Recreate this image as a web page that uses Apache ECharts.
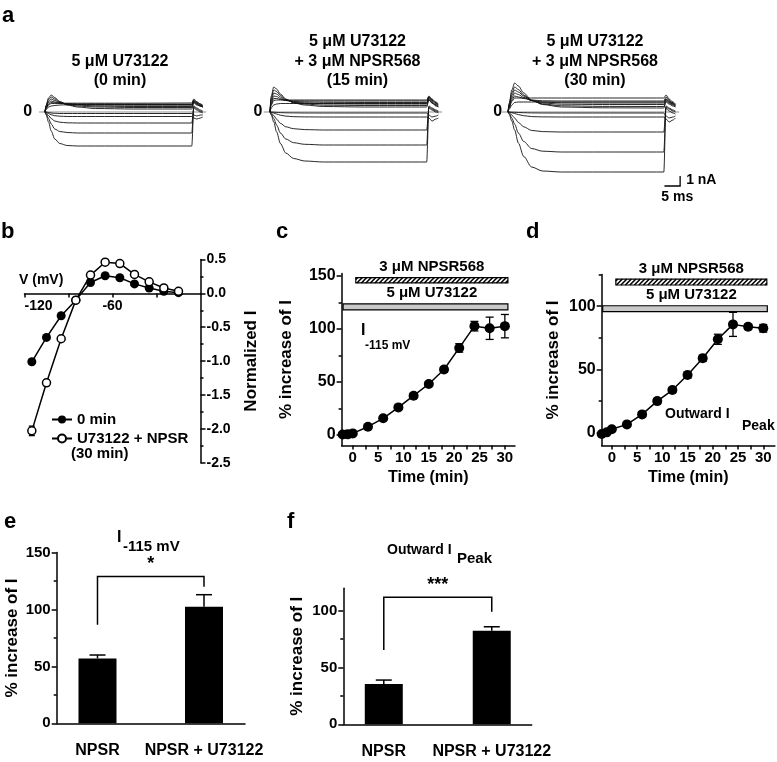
<!DOCTYPE html>
<html><head><meta charset="utf-8">
<script src="https://cdn.jsdelivr.net/npm/echarts@6/dist/echarts.min.js"></script>
<style>html,body{margin:0;padding:0;background:#fff}#c{width:777px;height:762px}</style>
</head><body><div id="c"></div><script>
// ---------- DATA ----------
// panel a: current traces (nA) sampled at these times (ms) of a 50 ms step
const traceTimeMs = [0, 0.4, 1.2, 2.1, 3.3, 5, 7.5, 11, 17, 30, 49.6, 50.3, 51.3, 52.5, 53.3];
const tracesA1 = [
 [0,-0.3,-1.0,-1.9,-2.7,-3.15,-3.35,-3.4,-3.4,-3.4,-3.4,0.5,0.3,0.1,0.0],
 [0,-0.2,-0.65,-1.2,-1.7,-1.95,-2.05,-2.1,-2.1,-2.1,-2.1,0.6,0.4,0.2,0.1],
 [0,-0.1,-0.35,-0.65,-0.9,-1.02,-1.08,-1.1,-1.1,-1.1,-1.1,0.4,0.2,0.0,-0.1],
 [0,-0.05,-0.15,-0.27,-0.37,-0.42,-0.45,-0.45,-0.45,-0.45,-0.45,-0.6,-0.7,-0.6,-0.5],
 [0,0,-0.05,-0.1,-0.13,-0.15,-0.15,-0.15,-0.15,-0.15,-0.15,-0.3,-0.4,-0.3,-0.3],
 [0,0.7,1.4,1.7,1.45,1.05,0.7,0.5,0.35,0.3,0.3,0.9,0.7,0.6,0.5],
 [0,0.6,1.25,1.5,1.3,1.0,0.75,0.6,0.5,0.45,0.45,1.0,0.8,0.6,0.5],
 [0,0.55,1.1,1.3,1.15,0.95,0.8,0.7,0.6,0.55,0.55,1.1,0.9,0.7,0.5],
 [0,0.5,0.95,1.1,1.0,0.9,0.8,0.75,0.7,0.68,0.68,1.1,0.9,0.7,0.6],
 [0,0.4,0.8,0.95,0.9,0.85,0.82,0.8,0.8,0.78,0.78,1.2,1.0,0.8,0.6],
 [0,0.35,0.7,0.85,0.87,0.88,0.88,0.88,0.88,0.88,0.9,1.3,1.0,0.8,0.7],
 [0,0.25,0.5,0.6,0.65,0.7,0.72,0.74,0.75,0.75,0.75,1.0,0.8,0.6,0.5]
];
const tracesA2 = [
 [0,-0.3,-1.0,-2.0,-3.15,-4.1,-4.65,-4.9,-5.0,-5.0,-5.0,0.5,0.3,0.1,0.0],
 [0,-0.2,-0.66,-1.3,-2.1,-2.7,-3.07,-3.23,-3.3,-3.3,-3.3,0.6,0.4,0.2,0.1],
 [0,-0.1,-0.36,-0.72,-1.13,-1.48,-1.67,-1.76,-1.8,-1.8,-1.8,0.4,0.2,0.0,-0.1],
 [0,-0.03,-0.1,-0.2,-0.32,-0.41,-0.47,-0.49,-0.5,-0.5,-0.5,-0.6,-0.9,-0.7,-0.6],
 [0,0,-0.02,-0.04,-0.06,-0.08,-0.09,-0.1,-0.1,-0.1,-0.1,-0.3,-0.5,-0.4,-0.3],
 [0,1.6,2.5,2.3,1.8,1.3,0.9,0.7,0.55,0.5,0.5,1.2,0.9,0.6,0.5],
 [0,1.4,2.2,2.05,1.65,1.25,0.95,0.8,0.68,0.65,0.65,1.3,1.0,0.7,0.5],
 [0,1.2,1.9,1.8,1.5,1.2,1.0,0.9,0.82,0.8,0.8,1.4,1.1,0.8,0.6],
 [0,1.0,1.6,1.55,1.35,1.15,1.05,1.0,0.97,0.95,0.95,1.5,1.2,0.9,0.7],
 [0,0.8,1.35,1.35,1.25,1.15,1.12,1.1,1.1,1.1,1.1,1.5,1.2,0.9,0.7],
 [0,0.7,1.15,1.2,1.2,1.2,1.2,1.2,1.2,1.2,1.2,1.6,1.3,1.0,0.8],
 [0,0.4,0.7,0.8,0.85,0.85,0.85,0.85,0.85,0.85,0.85,1.2,0.9,0.7,0.5]
];
const tracesA3 = [
 [0,-0.25,-0.9,-1.8,-3.1,-4.45,-5.5,-5.9,-6.0,-6.0,-6.0,0.5,0.3,0.1,0.0],
 [0,-0.16,-0.6,-1.2,-2.1,-2.95,-3.65,-3.92,-4.0,-4.0,-4.0,0.6,0.4,0.2,0.1],
 [0,-0.08,-0.3,-0.6,-1.04,-1.48,-1.84,-1.96,-2.0,-2.0,-2.0,0.4,0.1,-0.1,-0.2],
 [0,-0.02,-0.07,-0.15,-0.26,-0.37,-0.46,-0.49,-0.5,-0.5,-0.5,-0.7,-1.0,-0.8,-0.6],
 [0,0,-0.02,-0.03,-0.05,-0.07,-0.09,-0.1,-0.1,-0.1,-0.1,-0.4,-0.6,-0.5,-0.4],
 [0,0.9,2.2,2.9,2.6,1.9,1.2,0.75,0.5,0.42,0.4,1.0,0.8,0.6,0.5],
 [0,0.8,1.9,2.5,2.25,1.7,1.15,0.8,0.62,0.56,0.55,1.1,0.9,0.7,0.5],
 [0,0.7,1.65,2.2,2.0,1.6,1.15,0.9,0.78,0.75,0.75,1.2,1.0,0.8,0.6],
 [0,0.6,1.4,1.9,1.75,1.45,1.15,1.0,0.92,0.9,0.9,1.3,1.1,0.9,0.7],
 [0,0.5,1.2,1.6,1.5,1.35,1.2,1.12,1.1,1.1,1.1,1.5,1.2,0.9,0.7],
 [0,0.45,1.05,1.4,1.4,1.4,1.4,1.4,1.4,1.4,1.4,1.7,1.3,1.0,0.8],
 [0,0.3,0.7,0.95,1.0,1.0,1.0,1.0,1.0,1.0,1.0,1.3,1.0,0.8,0.6]
];
const zeroLineMs = [-2, 54.5];
const scaleBarMs = 5, scaleBarNA = 1;
const aTitles = [
 ['5 \u03bcM U73122', '(0 min)'],
 ['5 \u03bcM U73122', '+ 3 \u03bcM NPSR568', '(15 min)'],
 ['5 \u03bcM U73122', '+ 3 \u03bcM NPSR568', '(30 min)']
];
// panel b: I-V
const ivVoltage = [-115, -105, -95, -85, -75, -65, -55, -45, -35, -25, -15];
const iv0min = [-1.01, -0.65, -0.33, -0.10, 0.16, 0.26, 0.23, 0.14, 0.08, 0.03, 0.01];
const iv0minErr = [0.03, 0.02, 0.02, 0.01, 0.01, 0.01, 0.01, 0.01, 0.01, 0.01, 0.01];
const iv30min = [-2.03, -1.32, -0.67, -0.10, 0.27, 0.46, 0.44, 0.28, 0.17, 0.08, 0.03];
const iv30minErr = [0.07, 0.04, 0.03, 0.02, 0.02, 0.02, 0.02, 0.02, 0.01, 0.01, 0.01];
const ivNames = ['0 min', 'U73122 + NPSR', '(30 min)'];
const vTicks = [-120, -90, -60, -30];
const vLabels = [-120, -60];
// panels c, d: time course
const timeMin = [-2, -1, 0, 3, 6, 9, 12, 15, 18, 21, 24, 27, 30];
const incC = [0.4, 0.6, 1.5, 7.8, 15.7, 26, 37, 48, 61.7, 82, 102.5, 100.5, 102.5];
const incCErr = [1, 1, 1.5, 1.5, 1.5, 2, 2, 2, 2.5, 4, 4.5, 10.5, 11];
const incD = [-1, 0.3, 2.7, 6.6, 14.5, 25, 33.7, 45.6, 58.8, 73.8, 85.6, 83.7, 82.5];
const incDErr = [1, 1, 1.5, 1.5, 2, 2, 2, 2.5, 2.5, 4, 9.5, 2, 3];
const drugLabels = ['3 \u03bcM NPSR568', '5 \u03bcM U73122'];
const drugC = [[0.6, 30.6, 143.2, 148.3, 1], [-1.9, 30.6, 117.8, 123.5, 0]];
const drugD = [[0.8, 30.7, 116.7, 121.4, 1], [-1.8, 30.8, 95.6, 100.3, 0]];
const timeTicks = [0, 2.5, 5, 7.5, 10, 12.5, 15, 17.5, 20, 22.5, 25, 27.5, 30];
const timeLabels = [0, 5, 10, 15, 20, 25, 30];
// panels e, f: bars
const barCats = ['NPSR', 'NPSR + U73122'];
const barE = [57, 102.5], barEErr = [3, 10.5];
const barF = [35.5, 82.5], barFErr = [3.5, 3.5];
const bracketE = [1, 2, 129, 86.5, 120];
const bracketF = [1, 2, 112, 65.5, 99.3];
const sigLabels = ['*', '***'];

// ---------- CHART ----------
const FONT = '"Liberation Sans", Arial, Helvetica, sans-serif';
const chart = echarts.init(document.getElementById('c'));
const bold = (s) => 'bold ' + s + 'px ' + FONT;
const AX = {color: '#000', width: 1.5};

const grids = [
 {left: 36.1, top: 72, width: 174.6, height: 135},
 {left: 260.5, top: 72, width: 186.4, height: 135},
 {left: 498.6, top: 72, width: 185.3, height: 135},
 {left: 24.5, top: 259.5, width: 176, height: 203.2},
 {left: 341.6, top: 273.6, width: 173.4, height: 172},
 {left: 601.7, top: 274.5, width: 173.2, height: 170.9},
 {left: 56.7, top: 552.6, width: 188.3, height: 170.7},
 {left: 343.3, top: 588.2, width: 188.4, height: 136.1},
 {left: 24.5, top: 259.5, width: 176, height: 33.9}   // b: strip ending at V axis (I = 0)
];
const xAxes = [], yAxes = [], series = [];
const lbl = (size) => ({color: '#000', fontWeight: 'bold', fontFamily: FONT, fontSize: size});

// panel a
const aMargins = [4, -2, -3.5];
[tracesA1, tracesA2, tracesA3].forEach((tr, k) => {
  xAxes.push({gridIndex: k, type: 'value', min: -3, max: 56, show: false});
  yAxes.push({gridIndex: k, type: 'value', min: -9.5, max: 4,
    axisLine: {show: false}, axisTick: {show: false}, splitLine: {show: false},
    axisLabel: Object.assign(lbl(16), {customValues: [0], margin: aMargins[k]})});
  series.push({type: 'line', xAxisIndex: k, yAxisIndex: k, data: zeroLineMs.map(t => [t, 0]),
    showSymbol: false, silent: true, lineStyle: {color: '#b4b4b4', width: 1.6}, z: 1});
  tr.forEach(vals => {
    series.push({type: 'line', xAxisIndex: k, yAxisIndex: k, smooth: 0.3, smoothMonotone: 'x',
      showSymbol: false, silent: true, data: traceTimeMs.map((t, i) => [t, vals[i]]),
      lineStyle: {color: '#111', width: 0.9}, z: 2});
  });
});
series.push({type: 'custom', xAxisIndex: 2, yAxisIndex: 2, silent: true,
  data: [[54.8, -7.4, scaleBarMs, scaleBarNA]],
  renderItem: (p, api) => {
    const t = api.value(0), v = api.value(1), dt = api.value(2), dv = api.value(3);
    const c = api.coord([t, v]), l = api.coord([t - dt, v]), u = api.coord([t, v + dv]);
    return {type: 'group', children: [
      {type: 'polyline', shape: {points: [l, c, u]}, style: {stroke: '#000', lineWidth: 1.3, fill: null}},
      {type: 'text', style: {text: scaleBarNA + ' nA', x: c[0] + 6, y: (c[1] + u[1]) / 2 - 1, textVerticalAlign: 'middle', font: bold(14), fill: '#000'}},
      {type: 'text', style: {text: scaleBarMs + ' ms', x: (c[0] + l[0]) / 2 + 5, y: c[1] + 4, textAlign: 'center', textVerticalAlign: 'top', font: bold(14), fill: '#000'}}
    ]};
  }});

// panel b
xAxes.push({gridIndex: 3, type: 'value', min: -120, max: 0, show: false});
yAxes.push({gridIndex: 3, type: 'value', position: 'right', min: -2.5, max: 0.5, interval: 0.5,
  axisLine: {lineStyle: AX}, splitLine: {show: false},
  axisTick: {length: 5, lineStyle: AX}, minorTick: {show: true, splitNumber: 2, length: 3, lineStyle: AX},
  axisLabel: Object.assign(lbl(14), {formatter: v => v.toFixed(1), margin: 6}),
  name: 'Normalized I', nameLocation: 'middle', nameRotate: 90, nameGap: 42,
  nameTextStyle: lbl(17)});
function errRender(w) {
  return (p, api) => {
    const x = api.value(0), y = api.value(1), e = api.value(2);
    if (!e) return;
    const a = api.coord([x, y + e]), b = api.coord([x, y - e]);
    const st = {stroke: '#000', lineWidth: 1.3};
    return {type: 'group', children: [
      {type: 'line', shape: {x1: a[0], y1: a[1], x2: b[0], y2: b[1]}, style: st},
      {type: 'line', shape: {x1: a[0] - w, y1: a[1], x2: a[0] + w, y2: a[1]}, style: st},
      {type: 'line', shape: {x1: b[0] - w, y1: b[1], x2: b[0] + w, y2: b[1]}, style: st}
    ]};
  };
}
series.push({type: 'custom', xAxisIndex: 3, yAxisIndex: 3, silent: true, z: 2,
  data: ivVoltage.map((v, i) => [v, iv0min[i], iv0minErr[i]]), renderItem: errRender(3)});
series.push({type: 'custom', xAxisIndex: 3, yAxisIndex: 3, silent: true, z: 2,
  data: ivVoltage.map((v, i) => [v, iv30min[i], iv30minErr[i]]), renderItem: errRender(3)});
series.push({name: ivNames[0], type: 'line', xAxisIndex: 3, yAxisIndex: 3, z: 3,
  data: ivVoltage.map((v, i) => [v, iv0min[i]]), symbol: 'circle', symbolSize: 9,
  itemStyle: {color: '#000'}, lineStyle: {color: '#000', width: 1.5}});
series.push({name: ivNames[1], type: 'line', xAxisIndex: 3, yAxisIndex: 3, z: 4,
  data: ivVoltage.map((v, i) => [v, iv30min[i]]), symbol: 'circle', symbolSize: 8,
  itemStyle: {color: '#fff', borderColor: '#000', borderWidth: 1.5}, lineStyle: {color: '#000', width: 1.5}});

// panels c, d
function drugRender(p, api) {
  const t0 = api.value(0), t1 = api.value(1), lo = api.value(2), hi = api.value(3), kind = api.value(4);
  const a = api.coord([t0, hi]), b = api.coord([t1, lo]);
  const x0 = a[0], y0 = a[1], x1 = b[0], y1 = b[1], h = y1 - y0;
  const ch = [{type: 'rect', shape: {x: x0, y: y0, width: x1 - x0, height: h},
    style: {fill: kind ? '#fff' : '#c9c9c9', stroke: '#000', lineWidth: 1.2}}];
  if (kind) {
    for (let xb = x0 - h + 2; xb < x1; xb += 4.5) {
      let sx = xb, sy = y1, ex = xb + h, ey = y0;
      if (sx < x0) { sy = y1 - (x0 - sx); sx = x0; }
      if (ex > x1) { ey = y0 + (ex - x1); ex = x1; }
      if (ex <= sx) continue;
      ch.push({type: 'line', shape: {x1: sx, y1: sy, x2: ex, y2: ey}, style: {stroke: '#000', lineWidth: 1.6}});
    }
  }
  const d0 = p.context.first || (p.context.first = [x0, x1]);
  ch.push({type: 'text', style: {text: drugLabels[p.dataIndex], x: (d0[0] + d0[1]) / 2, y: y0 - 3,
    textAlign: 'center', textVerticalAlign: 'bottom', font: bold(15), fill: '#000'}});
  return {type: 'group', children: ch};
}
[[4, incC, incCErr, drugC, -2.2, 32, 152, [0, 50, 100, 150], [25, 75, 125], 47],
 [5, incD, incDErr, drugD, -2.0, 32.3, 125, [0, 50, 100], [25, 75, 125], 40]].forEach(cfg => {
  const [g, vals, errs, drugs, xmin, xmax, ymax, majors, minors, gap] = cfg;
  xAxes.push({gridIndex: g, type: 'value', min: xmin, max: xmax,
    axisLine: {onZero: false, lineStyle: AX}, splitLine: {show: false},
    axisTick: {customValues: timeTicks, length: 4, lineStyle: AX},
    axisLabel: Object.assign(lbl(15), {customValues: timeLabels, margin: 5}),
    name: 'Time (min)', nameLocation: 'middle', nameGap: 24, nameTextStyle: lbl(16)});
  const yi = yAxes.length;
  yAxes.push({gridIndex: g, type: 'value', position: 'left', min: -10, max: ymax,
    axisLine: {onZero: false, lineStyle: AX}, splitLine: {show: false},
    axisTick: {customValues: majors, length: 5, lineStyle: AX},
    axisLabel: Object.assign(lbl(16), {customValues: majors, margin: 6}),
    name: '% increase of I', nameLocation: 'middle', nameRotate: 90, nameGap: gap, nameTextStyle: lbl(17)});
  yAxes.push({gridIndex: g, type: 'value', position: 'left', min: -10, max: ymax,
    axisLine: {show: false, onZero: false}, splitLine: {show: false}, axisLabel: {show: false},
    axisTick: {customValues: minors, length: 3, lineStyle: AX}});
  const xi = xAxes.length - 1;
  series.push({type: 'custom', xAxisIndex: xi, yAxisIndex: yi, silent: true, data: drugs, renderItem: drugRender});
  series.push({type: 'custom', xAxisIndex: xi, yAxisIndex: yi, silent: true, z: 2,
    data: timeMin.map((t, i) => [t, vals[i], errs[i]]), renderItem: errRender(4)});
  series.push({type: 'line', xAxisIndex: xi, yAxisIndex: yi, z: 3, data: timeMin.map((t, i) => [t, vals[i]]),
    symbol: 'circle', symbolSize: 10, itemStyle: {color: '#000'}, lineStyle: {color: '#000', width: 1.5}});
});

// panels e, f
function capRender(p, api) {
  const x = api.value(0), y = api.value(1), e = api.value(2);
  const a = api.coord([x, y]), b = api.coord([x, y + e]);
  const st = {stroke: '#000', lineWidth: 1.5};
  return {type: 'group', children: [
    {type: 'line', shape: {x1: a[0], y1: a[1], x2: b[0], y2: b[1]}, style: st},
    {type: 'line', shape: {x1: b[0] - 8, y1: b[1], x2: b[0] + 8, y2: b[1]}, style: st}
  ]};
}
function bracketRender(label, size) {
  return (p, api) => {
    const x1 = api.value(0), x2 = api.value(1), yt = api.value(2), yl = api.value(3), yr = api.value(4);
    const a = api.coord([x1, yl]), b = api.coord([x1, yt]), c = api.coord([x2, yt]), d = api.coord([x2, yr]);
    return {type: 'group', children: [
      {type: 'polyline', shape: {points: [a, b, c, d]}, style: {stroke: '#000', lineWidth: 1.5, fill: null}},
      {type: 'text', style: {text: label, x: (b[0] + c[0]) / 2, y: b[1] - 3, textAlign: 'center',
        textVerticalAlign: 'bottom', font: bold(size), fill: '#000'}}
    ]};
  };
}
[[6, barE, barEErr, bracketE, sigLabels[0], 0.617, 2.385, 150, [0, 50, 100, 150], [25, 75, 125], 36],
 [7, barF, barFErr, bracketF, sigLabels[1], 0.625, 2.37, 120, [0, 50, 100], [25, 75], 37]].forEach(cfg => {
  const [g, vals, errs, br, sig, xmin, xmax, ymax, majors, minors, gap] = cfg;
  xAxes.push({gridIndex: g, type: 'value', min: xmin, max: xmax,
    axisLine: {onZero: false, lineStyle: AX}, splitLine: {show: false}, axisTick: {show: false},
    axisLabel: Object.assign(lbl(16), {customValues: [1, 2], formatter: v => barCats[Math.round(v) - 1], margin: 19})});
  const yi = yAxes.length;
  yAxes.push({gridIndex: g, type: 'value', position: 'left', min: 0, max: ymax,
    axisLine: {lineStyle: AX}, splitLine: {show: false},
    axisTick: {customValues: majors, length: 5, lineStyle: AX},
    axisLabel: Object.assign(lbl(15), {customValues: majors, margin: 6}),
    name: '% increase of I', nameLocation: 'middle', nameRotate: 90, nameGap: gap, nameTextStyle: lbl(17)});
  yAxes.push({gridIndex: g, type: 'value', position: 'left', min: 0, max: ymax,
    axisLine: {show: false}, splitLine: {show: false}, axisLabel: {show: false},
    axisTick: {customValues: minors, length: 3, lineStyle: AX}});
  const xi = xAxes.length - 1;
  series.push({type: 'custom', xAxisIndex: xi, yAxisIndex: yi, silent: true, z: 1,
    data: vals.map((v, i) => [i + 1, v, errs[i]]), renderItem: capRender});
  series.push({type: 'bar', xAxisIndex: xi, yAxisIndex: yi, barWidth: 38, z: 2, silent: true,
    data: vals.map((v, i) => [i + 1, v]), itemStyle: {color: '#000'}});
  series.push({type: 'custom', xAxisIndex: xi, yAxisIndex: yi, silent: true, data: [br],
    renderItem: bracketRender(sig, 18)});
});

// panel b voltage axis drawn at I = 0 (bottom of strip grid 8)
xAxes.push({gridIndex: 8, type: 'value', min: -120, max: 0,
  axisLine: {onZero: false, lineStyle: AX}, splitLine: {show: false},
  axisTick: {customValues: vTicks, length: 4, lineStyle: AX},
  axisLabel: Object.assign(lbl(14), {customValues: vLabels, margin: 6, alignMinLabel: 'left'})});
yAxes.push({gridIndex: 8, type: 'value', min: 0, max: 1, show: false});

const txt = (text, x, y, size, align) => ({type: 'text',
  style: {text, x, y, font: bold(size), fill: '#000', textAlign: align || 'left', textVerticalAlign: 'middle'}});
const graphics = [
  txt('a', 2, 16, 22), txt('b', 1, 232, 22), txt('c', 276, 232, 22), txt('d', 526, 232, 22),
  txt('e', 4, 522, 22), txt('f', 287, 522, 22),
  txt('V (mV)', 19, 280, 14),
  txt(ivNames[2], 71, 454, 15),
  txt('I', 361, 331, 16), txt('-115 mV', 365, 346, 12),
  txt('Outward I', 665, 414, 14), txt('Peak', 742, 426, 14),
  txt('I', 117, 538, 16), txt('-115 mV', 123, 547, 15),
  txt('Outward I', 387, 550, 14), txt('Peak', 457, 559, 15)
];
const titleX = [120, 357.5, 595];
aTitles.forEach((lines, k) => {
  const n = lines.length;
  lines.forEach((s, j) => graphics.push(txt(s, titleX[k], 81 - (n - 1 - j) * 19.5, 16, 'center')));
});

chart.setOption({
  backgroundColor: '#fff',
  animation: false,
  grid: grids,
  xAxis: xAxes,
  yAxis: yAxes,
  legend: {data: [ivNames[0], ivNames[1]], orient: 'vertical', left: 46, top: 407, itemGap: 4,
    itemWidth: 20, itemHeight: 10, textStyle: lbl(15), selectedMode: false},
  series: series,
  graphic: graphics
});
</script></body></html>
